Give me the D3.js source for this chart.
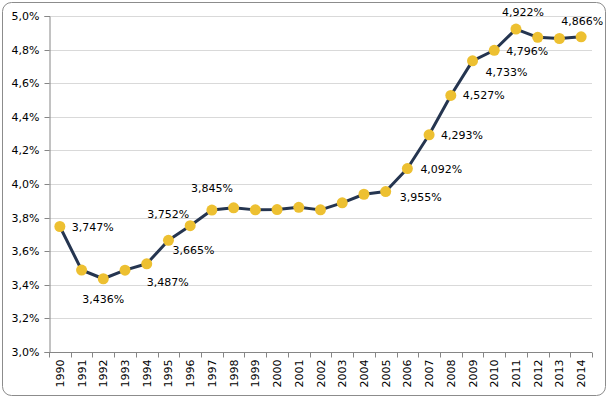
<!DOCTYPE html>
<html>
<head>
<meta charset="utf-8">
<script src="https://cdn.jsdelivr.net/npm/d3@7"></script>
<style>
  body { margin: 0; background: #fff; }
  text { font-family: "DejaVu Sans", Verdana, sans-serif; }
</style>
</head>
<body>
<script>
const w = 610;
const h = 399;

// data
const years = ["1990","1991","1992","1993","1994","1995","1996","1997","1998","1999",
               "2000","2001","2002","2003","2004","2005","2006","2007","2008","2009",
               "2010","2011","2012","2013","2014"];
const rates = [3.747, 3.488, 3.436, 3.487, 3.525, 3.665, 3.752, 3.845, 3.858, 3.846,
               3.848, 3.861, 3.846, 3.888, 3.939, 3.955, 4.092, 4.293, 4.527, 4.733,
               4.796, 4.922, 4.873, 4.866, 4.876];
const yTicks = [3.0, 3.2, 3.4, 3.6, 3.8, 4.0, 4.2, 4.4, 4.6, 4.8, 5.0];

// which points get a data label (year of the point the label belongs to)
const labelYears = ["1990","1992","1993","1995","1996","1997","2005","2006","2007",
                    "2008","2009","2010","2011","2013"];
// where each label sits, relative to its anchor year: [anchor year, dx, dy, anchor]
const labelPlace = {
  "1990": ["1990", 12, 4, "start"],
  "1992": ["1992", 0, 24, "middle"],
  "1993": ["1994", 21, 22, "middle"],
  "1995": ["1995", 4, 14, "start"],
  "1996": ["1996", -22, -8, "middle"],
  "1997": ["1997", 0, -18, "middle"],
  "2005": ["2005", 14, 9, "start"],
  "2006": ["2006", 13, 4, "start"],
  "2007": ["2007", 12, 4, "start"],
  "2008": ["2008", 12, 4, "start"],
  "2009": ["2009", 13, 15, "start"],
  "2010": ["2010", 12, 5, "start"],
  "2011": ["2011", 7, -13, "middle"],
  "2013": ["2014", 1, -12, "middle"]
};

const data = years.map((y, i) => ({year: y, value: rates[i]}));
const fmt = v => d3.format(".3f")(v).replace(".", ",") + "%";
const fmtTick = v => d3.format(".1f")(v).replace(".", ",") + "%";

const margin = {top: 16, right: 18, bottom: 47, left: 49};

const svg = d3.select("body").append("svg")
  .attr("width", w)
  .attr("height", h);

// chart border
svg.append("rect")
  .attr("x", 2.5).attr("y", 2.5)
  .attr("width", w - 7).attr("height", h - 6)
  .attr("rx", 9).attr("ry", 9)
  .attr("fill", "#fff")
  .attr("stroke", "#8c8c8c")
  .attr("stroke-width", 1);

const x = d3.scaleBand()
  .domain(years)
  .range([margin.left, w - margin.right]);

const y = d3.scaleLinear()
  .domain([3.0, 5.0])
  .range([h - margin.bottom, margin.top]);

// gridlines
svg.append("g")
  .selectAll("line")
  .data(yTicks.slice(1))
  .enter()
  .append("line")
  .attr("x1", margin.left)
  .attr("x2", w - margin.right)
  .attr("y1", d => Math.round(y(d)) + 0.5)
  .attr("y2", d => Math.round(y(d)) + 0.5)
  .attr("stroke", "#d9d9d9");

// y axis
const yAxis = svg.append("g")
  .attr("transform", `translate(${margin.left + 0.5},0)`)
  .call(d3.axisLeft(y).tickValues(yTicks).tickFormat(fmtTick).tickSize(5).tickPadding(5));
yAxis.select(".domain").attr("stroke", "#868686");
yAxis.selectAll(".tick line").attr("stroke", "#868686");
yAxis.selectAll(".tick").attr("transform", d => `translate(0,${Math.round(y(d)) + 0.5})`);
yAxis.selectAll("text").attr("font-size", "11px").attr("fill", "#000")
  .style("font-family", "'DejaVu Sans', Verdana, sans-serif");

// x axis: ticks between categories
const xg = svg.append("g")
  .attr("transform", `translate(0,${Math.round(y(3.0)) + 0.5})`);
xg.append("line")
  .attr("x1", margin.left).attr("x2", w - margin.right)
  .attr("stroke", "#868686");
xg.selectAll("line.tk")
  .data(years.concat(["end"]))
  .enter()
  .append("line")
  .attr("class", "tk")
  .attr("x1", (d, i) => Math.round(margin.left + i * x.step()) + 0.5)
  .attr("x2", (d, i) => Math.round(margin.left + i * x.step()) + 0.5)
  .attr("y1", 0).attr("y2", 5)
  .attr("stroke", "#868686");
xg.selectAll("text")
  .data(years)
  .enter()
  .append("text")
  .attr("transform", d => `translate(${x(d) + x.bandwidth() / 2 + 4},7) rotate(-90)`)
  .attr("text-anchor", "end")
  .attr("font-size", "11px")
  .attr("fill", "#000")
  .text(d => d);

const cx = d => x(d) + x.bandwidth() / 2;

// line
const line = d3.line()
  .x(d => cx(d.year))
  .y(d => y(d.value));

svg.append("path")
  .datum(data)
  .attr("d", line)
  .attr("fill", "none")
  .attr("stroke", "#253550")
  .attr("stroke-width", 3)
  .attr("stroke-linejoin", "round");

// markers
svg.selectAll("circle")
  .data(data)
  .enter()
  .append("circle")
  .attr("cx", d => cx(d.year))
  .attr("cy", d => y(d.value))
  .attr("r", 5.5)
  .attr("fill", "#edc031");

// data labels
const labels = data.filter(d => labelYears.includes(d.year));
svg.selectAll("text.lbl")
  .data(labels)
  .enter()
  .append("text")
  .attr("class", "lbl")
  .attr("x", d => cx(labelPlace[d.year][0]) + labelPlace[d.year][1])
  .attr("y", d => y(data.find(e => e.year === labelPlace[d.year][0]).value) + labelPlace[d.year][2])
  .attr("text-anchor", d => labelPlace[d.year][3])
  .attr("font-size", "11px")
  .attr("fill", "#000")
  .text(d => fmt(d.value));
</script>
</body>
</html>
